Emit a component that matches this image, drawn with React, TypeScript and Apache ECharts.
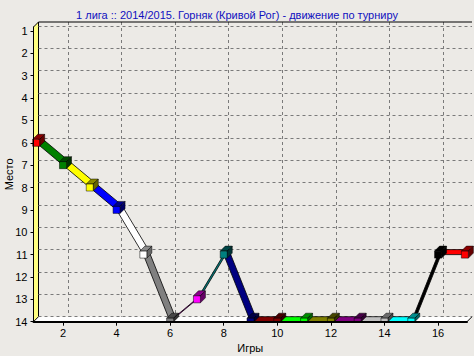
import React, { useEffect, useRef } from 'react';
import * as echarts from 'echarts';

const TITLE = '1 лига :: 2014/2015. Горняк (Кривой Рог) - движение по турниру';
const X_NAME = 'Игры';
const Y_NAME = 'Место';

const games = [1, 2, 3, 4, 5, 6, 7, 8, 9, 10, 11, 12, 13, 14, 15, 16, 17];
const places = [6, 7, 8, 9, 11, 14, 13, 11, 14, 14, 14, 14, 14, 14, 14, 11, 11];
const pointColors = [
  '#FF0000', '#008000', '#FFFF00', '#0000FF', '#FFFFFF', '#808080', '#FF00FF', '#008080',
  '#000080', '#800000', '#00FF00', '#808000', '#800080', '#C0C0C0', '#00FFFF', '#000000', '#FF0000',
];
const xTickValues = [2, 4, 6, 8, 10, 12, 14, 16];
const yTickValues = [1, 2, 3, 4, 5, 6, 7, 8, 9, 10, 11, 12, 13, 14];

const X_MIN = 0.9;
const X_MAX = 17.08;
const Y_MIN = 0.82;
const Y_MAX = 14;

// layout (pixels)
const FL = 33.5;
const FT = 27;
const FW = 433.5;
const FH = 294.7;
const DX = 5;
const DY = -5;
const BOX = 7;
const FONT = '"Liberation Sans", Arial, sans-serif';
const BG = '#ECEAE6';

function shade(hex: string, f: number) {
  const n = parseInt(hex.slice(1), 16);
  const r = Math.round(((n >> 16) & 255) * f);
  const g = Math.round(((n >> 8) & 255) * f);
  const b = Math.round((n & 255) * f);
  return `rgb(${r},${g},${b})`;
}

export default function App() {
  const ref = useRef<HTMLDivElement>(null);
  useEffect(() => {
    document.body.style.margin = '0';
    const chart = echarts.init(ref.current!, null, { renderer: 'svg' });

    const points = games.map((g, i) => [g, places[i]]);
    const segments = games.slice(1).map((g, i) => [games[i], places[i], g, places[i + 1]]);

    const labelStyle = { color: '#000', fontSize: 11, fontFamily: FONT };

    chart.setOption({
      animation: false,
      backgroundColor: BG,
      title: {
        text: TITLE,
        left: 'center',
        top: 4,
        textStyle: { color: '#1010C0', fontSize: 11, fontWeight: 'normal', fontFamily: FONT },
      },
      grid: [
        { left: FL, top: FT, width: FW, height: FH, containLabel: false, outerBoundsMode: 'none' },
        { left: FL + DX, top: FT + DY, width: FW, height: FH, containLabel: false, outerBoundsMode: 'none' },
      ],
      xAxis: [
        {
          gridIndex: 0, type: 'value', min: X_MIN, max: X_MAX, z: 10,
          axisLine: { show: true, onZero: false, lineStyle: { color: '#000', width: 2 } },
          axisTick: { show: true, customValues: xTickValues, length: 4, lineStyle: { color: '#000', width: 1 } },
          axisLabel: { customValues: xTickValues, margin: 6, ...labelStyle },
          splitLine: { show: false },
          name: X_NAME, nameLocation: 'middle', nameGap: 21, nameMoveOverlap: false,
          nameTextStyle: { ...labelStyle },
        },
        {
          gridIndex: 1, type: 'value', min: X_MIN, max: X_MAX, z: 1,
          axisLine: { show: false },
          axisTick: { show: false, customValues: xTickValues },
          axisLabel: { show: false },
          splitLine: { show: true, lineStyle: { color: '#7A7A7A', width: 1, type: [3, 3] } },
        },
      ],
      yAxis: [
        {
          gridIndex: 0, type: 'value', inverse: true, min: Y_MIN, max: Y_MAX, z: 10,
          axisLine: { show: true, onZero: false, lineStyle: { color: '#000', width: 1 } },
          axisTick: { show: true, customValues: yTickValues, length: 3, lineStyle: { color: '#000', width: 1 } },
          axisLabel: { customValues: yTickValues, margin: 6, ...labelStyle },
          splitLine: { show: false },
          name: Y_NAME, nameLocation: 'middle', nameGap: 19, nameRotate: 90, nameMoveOverlap: false,
          nameTextStyle: { ...labelStyle },
        },
        {
          gridIndex: 1, type: 'value', inverse: true, min: Y_MIN, max: Y_MAX, z: 1,
          axisLine: { show: false },
          axisTick: { show: false, customValues: yTickValues },
          axisLabel: { show: false },
          splitLine: { show: true, lineStyle: { color: '#7A7A7A', width: 1, type: [3, 3] } },
        },
      ],
      graphic: [
        {
          type: 'polygon', z: 0, silent: true,
          shape: { points: [[FL, FT + FH], [FL + DX, FT + FH + DY], [FL + FW + DX, FT + FH + DY], [FL + FW, FT + FH]] },
          style: { fill: '#FFFFFF' },
        },
        {
          type: 'polygon', z: 1, silent: true,
          shape: { points: [[FL, FT], [FL + DX, FT + DY], [FL + DX, FT + FH + DY], [FL, FT + FH]] },
          style: { fill: '#FFFF80', stroke: '#000', lineWidth: 1 },
        },
        {
          type: 'line', z: 10, silent: true,
          shape: { x1: FL + DX, y1: FT + DY, x2: FL + FW + DX, y2: FT + DY },
          style: { stroke: '#000', lineWidth: 1 },
        },
        {
          type: 'line', z: 10, silent: true,
          shape: { x1: FL + FW, y1: FT + FH, x2: FL + FW + DX, y2: FT + FH + DY },
          style: { stroke: '#000', lineWidth: 1 },
        },
      ],
      series: [
        {
          type: 'custom',
          xAxisIndex: 0, yAxisIndex: 0, z: 2,
          data: segments,
          renderItem: (params: any, api: any) => {
            const p1 = api.coord([api.value(0), api.value(1)]);
            const p2 = api.coord([api.value(2), api.value(3)]);
            const c = pointColors[params.dataIndex + 1];
            return {
              type: 'polygon',
              shape: { points: [p1, p2, [p2[0] + DX, p2[1] + DY], [p1[0] + DX, p1[1] + DY]] },
              style: { fill: c, stroke: '#000', lineWidth: 0.8 },
            };
          },
        },
        {
          type: 'custom',
          xAxisIndex: 0, yAxisIndex: 0, z: 3,
          data: points,
          renderItem: (params: any, api: any) => {
            const p = api.coord([api.value(0), api.value(1)]);
            const cs = params.coordSys;
            const bottom = cs.y + cs.height;
            const h = BOX / 2;
            const x0 = p[0] - h;
            const y0 = p[1] - h;
            const x1 = p[0] + h;
            const y1 = Math.min(p[1] + h, bottom);
            const c = pointColors[params.dataIndex];
            return {
              type: 'group',
              children: [
                {
                  type: 'polygon',
                  shape: { points: [[x0, y0], [x1, y0], [x1 + DX, y0 + DY], [x0 + DX, y0 + DY]] },
                  style: { fill: shade(c, 0.55), stroke: '#000', lineWidth: 0.5 },
                },
                {
                  type: 'polygon',
                  shape: { points: [[x1, y0], [x1, y1], [x1 + DX, y1 + DY], [x1 + DX, y0 + DY]] },
                  style: { fill: shade(c, 0.4), stroke: '#000', lineWidth: 0.5 },
                },
                {
                  type: 'rect',
                  shape: { x: x0, y: y0, width: x1 - x0, height: y1 - y0 },
                  style: { fill: c, stroke: '#000', lineWidth: 0.5 },
                },
              ],
            };
          },
        },
      ],
    });

    return () => chart.dispose();
  }, []);

  return (
    <div
      ref={ref}
      style={{ position: 'absolute', left: 0, top: 0, width: 474, height: 356 }}
    />
  );
}
